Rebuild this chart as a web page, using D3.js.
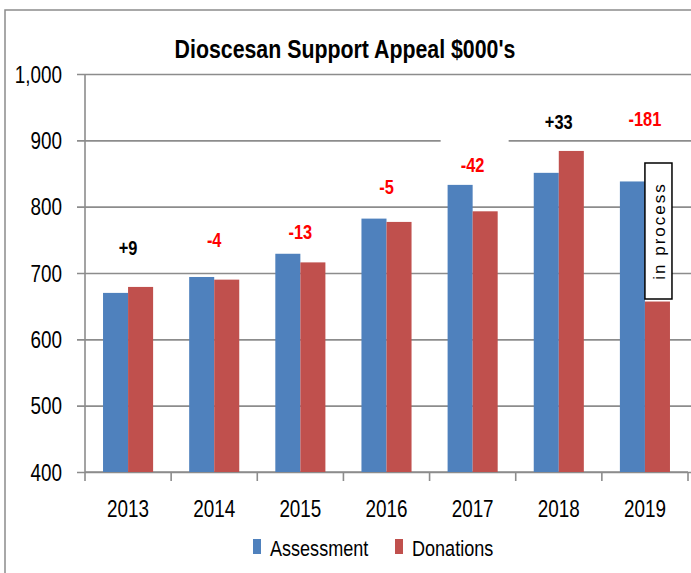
<!DOCTYPE html>
<html>
<head>
<meta charset="utf-8">
<script src="https://cdn.jsdelivr.net/npm/d3@7"></script>
<style>
body { margin: 0; background: #fff; }
text { font-family: "Liberation Sans", Arial, sans-serif; }
</style>
</head>
<body>
<svg width="691" height="573"></svg>
<script>
var years = ["2013", "2014", "2015", "2016", "2017", "2018", "2019"];
var seriesNames = ["Assessment", "Donations"];
var assessment = [670, 694, 729, 782, 835, 851, 838];
var donations = [679, 690, 716, 777, 793, 884, 657];
var diffs = [9, -4, -13, -5, -42, 33, -181];
var noteAt = [738, 750, 762, 830, 863, 928, 932];
var yTicks = [400, 500, 600, 700, 800, 900, 1000];
var colors = ["#4F81BD", "#C0504D"];

var svg = d3.select("svg"),
width = +svg.attr("width"),
height = +svg.attr("height");

var plotLeft = 85, plotRight = 688, plotTop = 74, plotBottom = 472;

// narrow look: squeeze text to 82% of its natural width
function squeeze(sel, f) {
 sel.each(function () {
   var w = this.getComputedTextLength();
   d3.select(this)
   .attr("textLength", w * (f || 0.82))
   .attr("lengthAdjust", "spacingAndGlyphs");
 });
}

// chart frame
svg.append("rect")
.attr("x", 5)
.attr("y", 10)
.attr("width", 720)
.attr("height", 600)
.style("fill", "none")
.style("stroke", "#8c8c8c")
.style("stroke-width", 1.5);

svg.append("text")
.attr("x", 345)
.attr("y", 58)
.attr("text-anchor", "middle")
.style("font-size", "26px")
.style("font-weight", "bold")
.style("fill", "#000")
.text("Dioscesan Support Appeal $000's")
.call(squeeze);

var y = d3.scaleLinear()
.domain([400, 1000])
.range([plotBottom, plotTop]);

var x0 = d3.scaleBand()
.domain(years)
.range([plotLeft, plotRight])
.padding(0);

var x1 = d3.scaleBand()
.domain(seriesNames)
.range([0, x0.bandwidth()])
.paddingInner(0)
.paddingOuter(0.72);

// gridlines + y axis
var yAxis = svg.append("g")
.attr("transform", "translate(" + plotLeft + ",0)")
.call(d3.axisLeft(y)
 .tickValues(yTicks)
 .tickSize(-(width - plotLeft))
 .tickPadding(0)
 .tickFormat(d3.format(",")));
yAxis.select(".domain").remove();
yAxis.selectAll(".tick line")
.attr("x1", -8)
.style("stroke", "#8c8c8c")
.style("stroke-width", 1.6);
yAxis.selectAll(".tick text")
.attr("x", -23)
.attr("dy", "0.36em")
.style("font-size", "23px")
.style("font-family", "'Liberation Sans', Arial, sans-serif")
.style("fill", "#000")
.call(squeeze);

svg.append("line")
.attr("x1", plotLeft).attr("x2", plotLeft)
.attr("y1", plotTop).attr("y2", plotBottom + 1)
.style("stroke", "#8c8c8c")
.style("stroke-width", 1.6);

// x axis
var xAxis = svg.append("g")
.attr("transform", "translate(0," + plotBottom + ")");
xAxis.append("line")
.attr("x1", plotLeft).attr("x2", plotRight)
.style("stroke", "#8c8c8c")
.style("stroke-width", 1.6);
xAxis.selectAll(".sep")
.data(years.concat(["end"]))
.enter().append("line")
.attr("x1", function (d, i) { return plotLeft + i * x0.step() })
.attr("x2", function (d, i) { return plotLeft + i * x0.step() })
.attr("y1", 0)
.attr("y2", 9)
.style("stroke", "#8c8c8c")
.style("stroke-width", 1.6);
xAxis.selectAll(".yr")
.data(years)
.enter().append("text")
.attr("x", function (d) { return x0(d) + x0.bandwidth() / 2 })
.attr("y", 45)
.attr("text-anchor", "middle")
.style("font-size", "23px")
.style("fill", "#000")
.text(function (d) { return d })
.call(squeeze);

// bars
var rows = years.map(function (yr, i) {
 return { year: yr, values: [assessment[i], donations[i]] }
});
var groups = svg.append("g")
.selectAll("g")
.data(rows)
.enter().append("g")
.attr("transform", function (d) { return "translate(" + x0(d.year) + ",0)" });
groups.selectAll("rect")
.data(function (d) { return d.values.map(function (v, k) { return { name: seriesNames[k], value: v, k: k } }) })
.enter().append("rect")
.attr("x", function (d) { return x1(d.name) })
.attr("y", function (d) { return y(d.value) })
.attr("width", x1.bandwidth())
.attr("height", function (d) { return plotBottom - y(d.value) })
.style("fill", function (d) { return colors[d.k] });

// difference notes
var masked = [false, false, false, false, true, false, true];
var notes = svg.append("g");
years.forEach(function (yr, i) {
 var cx = x0(yr) + x0.bandwidth() / 2, cy = y(noteAt[i]);
 if (masked[i]) {
   notes.append("rect")
   .attr("x", cx - 32)
   .attr("y", cy - 28)
   .attr("width", 68)
   .attr("height", 48)
   .style("fill", "#fff");
 }
 notes.append("text")
 .attr("x", cx)
 .attr("y", cy)
 .attr("dy", "0.36em")
 .attr("text-anchor", "middle")
 .style("font-size", "20px")
 .style("font-weight", "bold")
 .style("fill", diffs[i] > 0 ? "#000" : "#ff0000")
 .text((diffs[i] > 0 ? "+" : "") + diffs[i])
 .call(squeeze);
});

// "in process" box on the last donations bar
var bx = x0(years[6]) + x1("Donations");
svg.append("rect")
.attr("x", bx)
.attr("y", 163)
.attr("width", x1.bandwidth() + 2)
.attr("height", 136)
.style("fill", "#fff")
.style("stroke", "#000")
.style("stroke-width", 1.5);
svg.append("text")
.attr("transform", "translate(" + (bx + 14) + ",231) rotate(-90)")
.attr("text-anchor", "middle")
.attr("dy", "0.35em")
.style("font-size", "17px")
.style("letter-spacing", "2px")
.style("fill", "#000")
.text("in process");

// legend
var legend = svg.append("g");
var lx = [253, 395];
seriesNames.forEach(function (name, k) {
 legend.append("rect")
 .attr("x", lx[k])
 .attr("y", 539)
 .attr("width", 8)
 .attr("height", 15)
 .style("fill", colors[k]);
 legend.append("text")
 .attr("x", lx[k] + 17)
 .attr("y", 556)
 .style("font-size", "22px")
 .style("fill", "#000")
 .text(name)
 .call(squeeze);
});
</script>
</body>
</html>
